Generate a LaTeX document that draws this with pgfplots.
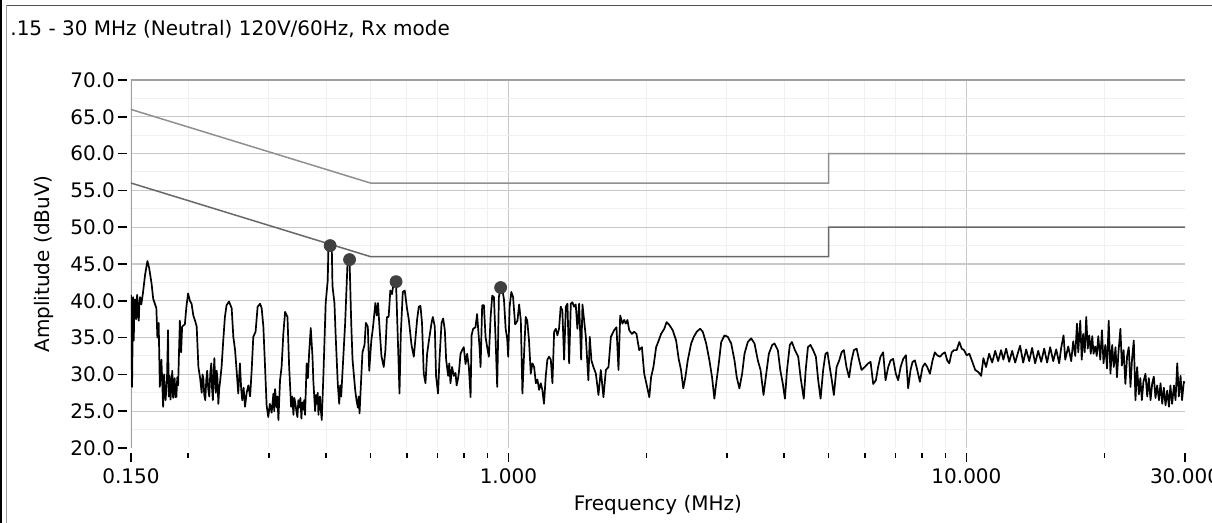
\documentclass[border=0pt]{standalone}
\usepackage{fontspec}
\setmainfont{DejaVu Sans}
\usepackage{pgfplots}
\pgfplotsset{compat=1.18}
\definecolor{gridmaj}{HTML}{C8C8C8}
\definecolor{gridmin}{HTML}{F0F0F0}
\definecolor{axiscol}{HTML}{A0A0A0}
\definecolor{qpcol}{HTML}{909090}
\definecolor{avgcol}{HTML}{686868}
\definecolor{mkcol}{HTML}{404040}
\begin{document}
\begin{tikzpicture}
\path[use as bounding box] (0,0) rectangle (606pt,-261.5pt);
\fill[white] (0,0) rectangle (606pt,-261.5pt);
\draw[black, line width=1pt] (0.5pt,0) -- (0.5pt,-261.5pt);
\draw[axiscol, line width=0.5pt] (3.25pt,-2.75pt) -- (3.25pt,-261.5pt);
\draw[black!70, line width=0.5pt] (3.25pt,-2.75pt) -- (606pt,-2.75pt);
\node[anchor=base west, inner sep=0pt] at (5pt,-17.75pt) {.15 - 30 MHz (Neutral) 120V/60Hz, Rx mode};
\begin{axis}[
  at={(65.5pt,-224pt)}, anchor=south west,
  scale only axis, width=527pt, height=184pt,
  xmode=log, xmin=0.15, xmax=30, ymin=20, ymax=70,
  axis line style={draw=none},
  tick pos=left, tick align=outside,
  major tick length=4.7pt, minor tick length=2.8pt,
  every tick/.style={black, line width=0.75pt},
  xtick style={yshift=-2.3pt},
  ytick style={xshift=-2pt},
  xtick={1,10}, xticklabels={1.000,10.000},
  extra x ticks={0.15,30}, extra x tick labels={0.150,30.000},
  extra x tick style={grid=none},
  minor xtick={0.2,0.3,0.4,0.5,0.6,0.7,0.8,0.9,2,3,4,5,6,7,8,9,20},
  ytick={25,30,35,40,45,50,55,60,65,70},
  yticklabels={25.0,30.0,35.0,40.0,45.0,50.0,55.0,60.0,65.0,70.0},
  extra y ticks={20}, extra y tick labels={20.0},
  extra y tick style={grid=none},
  xmajorgrids, xminorgrids, ymajorgrids,
  major grid style={gridmaj, line width=0.6pt},
  minor grid style={gridmin, line width=0.5pt},
  xticklabel style={anchor=north, inner sep=0pt, yshift=-5.3pt},
  yticklabel style={anchor=east, inner sep=0pt, xshift=-3.2pt},
  xlabel={Frequency (MHz)}, ylabel={Amplitude (dBuV)},
  xlabel style={at={(axis description cs:0.5,-0.1685)}, anchor=base, inner sep=0pt},
  ylabel style={at={(axis description cs:-0.0821,0.5)}, anchor=center, inner sep=0pt},
]
\pgfplotsinvokeforeach{22.5,27.5,32.5,37.5,42.5,47.5,52.5,57.5,62.5,67.5}{
  \draw[gridmin, line width=0.5pt] (axis cs:0.15,#1) -- (axis cs:30,#1);
}
\draw[axiscol, line width=0.75pt] (axis cs:0.15,20) -- (axis cs:0.15,70) -- (axis cs:30,70);
\addplot[qpcol, line width=0.75pt] coordinates {(0.15,66) (0.5,56) (5,56) (5,60) (30,60)};
\addplot[avgcol, line width=0.75pt] coordinates {(0.15,56) (0.5,46) (5,46) (5,50) (30,50)};
\addplot[black, line width=0.85pt, line join=round] table {
f dB
0.1500 40.8
0.1508 28.3
0.1516 40.5
0.1521 34.6
0.1526 39.8
0.1531 40.2
0.1539 37.5
0.1547 40.8
0.1553 38.0
0.1560 37.3
0.1565 40.0
0.1570 40.5
0.1580 39.5
0.1594 41.2
0.1610 43.5
0.1629 45.4
0.1643 44.5
0.1663 42.4
0.1677 40.3
0.1704 39.0
0.1713 35.0
0.1724 37.0
0.1734 28.3
0.1748 32.0
0.1755 29.0
0.1763 25.6
0.1772 30.0
0.1779 27.2
0.1785 26.5
0.1798 29.5
0.1807 36.0
0.1814 27.0
0.1822 29.8
0.1830 26.6
0.1838 28.5
0.1846 30.5
0.1854 26.8
0.1861 28.0
0.1868 29.5
0.1877 26.9
0.1885 27.0
0.1893 29.6
0.1901 28.5
0.1918 37.3
0.1930 33.0
0.1940 36.5
0.1967 36.8
0.1982 39.2
0.1999 41.0
0.2017 40.0
0.2034 39.6
0.2052 38.0
0.2070 37.3
0.2087 36.5
0.2105 31.0
0.2123 29.5
0.2140 27.5
0.2149 30.0
0.2158 29.5
0.2168 27.2
0.2179 26.5
0.2190 29.2
0.2200 30.5
0.2212 28.0
0.2223 27.0
0.2235 30.2
0.2246 31.5
0.2255 28.0
0.2264 26.5
0.2272 30.0
0.2281 32.2
0.2290 29.0
0.2298 27.5
0.2307 30.5
0.2316 29.5
0.2327 26.0
0.2337 28.0
0.2347 29.0
0.2365 31.0
0.2385 34.6
0.2405 37.8
0.2425 39.4
0.2455 39.9
0.2488 39.0
0.2509 35.1
0.2531 33.3
0.2551 30.5
0.2572 27.4
0.2594 31.5
0.2610 28.0
0.2624 26.5
0.2642 28.2
0.2661 25.6
0.2683 27.5
0.2706 28.5
0.2730 27.0
0.2751 30.5
0.2774 35.1
0.2806 35.8
0.2835 39.2
0.2870 39.6
0.2893 39.0
0.2918 36.5
0.2943 31.0
0.2966 25.8
0.2991 24.2
0.3015 26.0
0.3042 24.8
0.3069 27.4
0.3082 25.0
0.3095 28.0
0.3120 25.5
0.3133 27.0
0.3147 23.8
0.3173 29.2
0.3198 31.0
0.3227 35.6
0.3255 38.5
0.3294 37.8
0.3322 31.0
0.3355 25.6
0.3375 27.0
0.3394 24.5
0.3410 26.8
0.3428 26.0
0.3445 25.0
0.3463 24.2
0.3480 26.5
0.3498 25.5
0.3515 26.8
0.3533 24.0
0.3550 26.2
0.3568 25.2
0.3583 26.5
0.3598 24.5
0.3628 31.5
0.3650 29.5
0.3673 32.9
0.3703 36.3
0.3735 32.5
0.3753 29.0
0.3785 25.0
0.3803 27.2
0.3820 26.0
0.3835 27.5
0.3849 24.5
0.3863 26.5
0.3878 27.0
0.3895 25.2
0.3914 23.8
0.3947 30.0
0.3992 39.7
0.4033 42.8
0.4047 47.5
0.4082 47.6
0.4115 47.5
0.4130 42.0
0.4171 39.7
0.4198 35.1
0.4241 28.8
0.4272 26.0
0.4293 28.5
0.4315 27.0
0.4365 32.8
0.4402 37.0
0.4454 45.1
0.4500 45.6
0.4538 37.0
0.4568 32.0
0.4631 27.8
0.4660 26.5
0.4692 25.5
0.4712 27.0
0.4732 24.7
0.4772 29.5
0.4802 33.0
0.4852 34.0
0.4884 37.0
0.4933 36.5
0.4968 30.5
0.5019 34.5
0.5061 36.3
0.5124 39.7
0.5160 38.0
0.5193 39.7
0.5230 36.5
0.5283 32.5
0.5344 31.0
0.5389 33.3
0.5431 37.8
0.5476 37.8
0.5500 39.5
0.5523 41.4
0.5570 40.9
0.5619 42.5
0.5686 42.3
0.5744 33.7
0.5785 27.4
0.5823 35.5
0.5881 41.2
0.5939 41.4
0.6006 39.0
0.6060 37.5
0.6145 34.0
0.6217 32.4
0.6270 35.0
0.6321 37.5
0.6374 39.2
0.6428 39.3
0.6478 37.0
0.6534 30.1
0.6592 28.8
0.6646 32.8
0.6704 34.5
0.6796 37.0
0.6840 37.8
0.6908 36.5
0.6952 29.8
0.7022 27.4
0.7073 32.0
0.7146 37.0
0.7204 37.6
0.7266 36.0
0.7314 32.0
0.7387 29.8
0.7430 31.5
0.7475 28.8
0.7535 31.0
0.7602 29.8
0.7668 30.2
0.7710 28.5
0.7758 29.3
0.7797 30.2
0.7863 32.8
0.7926 33.3
0.7992 33.7
0.8062 31.4
0.8128 32.8
0.8198 31.0
0.8269 26.9
0.8310 35.3
0.8376 36.2
0.8475 36.4
0.8544 38.2
0.8650 33.7
0.8695 31.0
0.8766 39.4
0.8841 39.4
0.8916 35.1
0.8987 33.7
0.9065 32.4
0.9145 37.8
0.9220 40.7
0.9299 40.5
0.9379 34.6
0.9453 28.3
0.9534 40.5
0.9618 41.8
0.9696 41.6
0.9779 40.2
0.9863 36.2
0.9941 34.8
0.9990 32.4
1.0063 39.2
1.0148 41.2
1.0238 40.5
1.0344 36.8
1.0466 37.3
1.0556 39.5
1.0646 37.3
1.0730 27.4
1.0820 32.8
1.0910 37.8
1.0995 37.3
1.1092 34.6
1.1191 30.1
1.1283 31.5
1.1381 31.0
1.1480 28.8
1.1572 29.3
1.1670 27.9
1.1769 28.8
1.1861 27.9
1.1960 26.0
1.2063 29.7
1.2164 32.0
1.2270 32.4
1.2377 32.0
1.2478 28.8
1.2585 35.8
1.2692 36.2
1.2793 35.3
1.2899 36.2
1.3007 39.2
1.3116 38.7
1.3231 32.0
1.3347 39.2
1.3456 39.6
1.3571 31.5
1.3687 39.6
1.3796 39.8
1.3912 39.2
1.4029 39.5
1.4146 36.2
1.4270 39.6
1.4416 32.0
1.4511 39.5
1.4635 37.3
1.4759 35.1
1.4949 29.2
1.5055 35.1
1.5180 31.9
1.5336 31.0
1.5523 30.1
1.5726 27.2
1.5914 30.6
1.6125 26.9
1.6325 30.6
1.6541 31.0
1.6741 35.1
1.7018 36.0
1.7219 36.4
1.7395 30.6
1.7544 38.0
1.7745 36.9
1.7895 37.4
1.8047 36.9
1.8196 37.4
1.8355 36.0
1.8608 35.5
1.8823 35.8
1.9039 35.5
1.9304 33.3
1.9568 33.7
1.9794 30.1
2.0021 28.7
2.0307 26.9
2.0487 29.6
2.0730 31.0
2.1016 33.7
2.1291 34.6
2.1545 35.5
2.1894 36.2
2.2150 37.1
2.2462 36.7
2.2844 36.0
2.3237 34.6
2.3537 32.1
2.3815 30.6
2.4089 28.1
2.4342 29.6
2.4633 31.9
2.5063 34.2
2.5393 35.1
2.5772 35.8
2.6216 36.2
2.6567 35.8
2.7027 34.2
2.7473 31.9
2.7837 29.6
2.8162 26.7
2.8412 28.7
2.8794 31.5
2.9147 34.4
2.9633 35.3
3.0124 35.1
3.0651 34.2
3.1163 31.9
3.1519 29.6
3.1938 28.1
3.2383 30.1
3.2767 32.8
3.3317 34.4
3.3884 34.9
3.4460 34.2
3.5044 31.9
3.5522 30.6
3.6056 27.2
3.6556 30.1
3.7037 32.8
3.7667 34.0
3.8099 34.2
3.8752 33.3
3.9228 30.6
3.9742 28.7
4.0150 26.7
4.0577 30.6
4.1154 34.0
4.1581 34.4
4.2222 33.3
4.2928 32.4
4.3441 29.6
4.4146 26.7
4.4573 30.6
4.5072 33.7
4.5646 34.0
4.6268 33.3
4.6914 32.4
4.7464 29.2
4.8038 26.7
4.8660 30.6
4.9234 32.8
4.9713 33.0
5.0291 31.0
5.0820 29.2
5.1349 27.2
5.2064 31.0
5.2752 31.9
5.3387 33.0
5.3995 33.3
5.4710 31.0
5.5434 29.6
5.6127 31.9
5.6792 33.3
5.7572 33.5
5.8324 31.9
5.9017 30.6
5.9971 31.0
6.1006 31.5
6.1761 31.7
6.2579 28.7
6.3428 29.2
6.4151 31.0
6.4906 32.4
6.5782 33.0
6.6598 29.2
6.7483 31.0
6.8299 31.9
6.9183 32.1
7.0110 30.1
7.0949 29.2
7.1825 31.0
7.2774 32.1
7.3760 32.6
7.4599 28.1
7.5508 30.6
7.6289 31.7
7.7187 31.9
7.8086 30.6
7.9140 29.0
8.0207 31.0
8.1157 31.5
8.2107 31.0
8.3223 30.1
8.4339 31.9
8.5310 33.0
8.6328 32.6
8.7522 32.4
8.8717 32.8
8.9735 33.0
9.0794 31.9
9.1729 31.5
9.2851 33.0
9.3925 33.3
9.5196 33.3
9.6471 34.4
9.7647 33.5
9.8775 33.3
10.011 32.6
10.148 32.8
10.328 31.5
10.450 30.6
10.624 30.3
10.767 29.8
10.889 32.2
11.035 31.0
11.208 32.8
11.381 31.6
11.555 33.2
11.728 31.8
11.902 33.3
12.038 32.0
12.208 33.5
12.396 31.7
12.585 33.2
12.774 31.6
12.962 33.0
13.095 33.9
13.299 31.6
13.503 33.4
13.707 31.8
13.911 33.6
14.124 31.5
14.343 33.2
14.562 31.7
14.781 33.5
15.000 31.6
15.234 33.7
15.469 31.8
15.703 33.4
15.937 31.5
16.100 33.6
16.292 35.3
16.433 32.0
16.683 33.8
16.933 31.8
17.105 34.5
17.281 32.5
17.430 36.9
17.544 33.0
17.719 37.3
17.851 32.0
17.982 35.5
18.122 33.0
18.262 37.8
18.402 33.5
18.542 35.3
18.683 32.8
18.823 35.2
18.944 32.8
19.108 33.8
19.255 32.5
19.402 35.2
19.598 32.0
19.764 36.0
19.921 31.5
20.095 34.0
20.275 30.8
20.444 37.3
20.624 30.1
20.804 34.0
20.973 31.0
21.153 33.7
21.312 29.6
21.471 33.0
21.682 36.2
21.841 31.2
22.035 33.3
22.231 28.7
22.428 32.5
22.613 33.7
22.809 28.3
22.983 32.0
23.191 34.6
23.387 26.5
23.584 31.0
23.792 27.3
23.965 29.5
24.152 26.5
24.342 29.0
24.595 30.1
24.810 27.0
25.013 29.5
25.228 26.5
25.443 28.8
25.646 29.7
25.861 26.8
26.081 28.5
26.324 26.5
26.527 28.8
26.757 26.0
26.973 28.2
27.203 25.8
27.433 27.8
27.676 25.6
27.878 28.5
28.118 26.0
28.382 28.5
28.603 26.5
28.853 31.5
29.088 27.0
29.338 29.8
29.559 26.5
29.823 29.0
30.000 28.8
};
\addplot[only marks, mark=*, mark size=3pt, mkcol, mark options={draw=mkcol, fill=mkcol}] coordinates {(0.4082,47.5) (0.4500,45.6) (0.5686,42.6) (0.9618,41.8)};
\end{axis}
\end{tikzpicture}
\end{document}
